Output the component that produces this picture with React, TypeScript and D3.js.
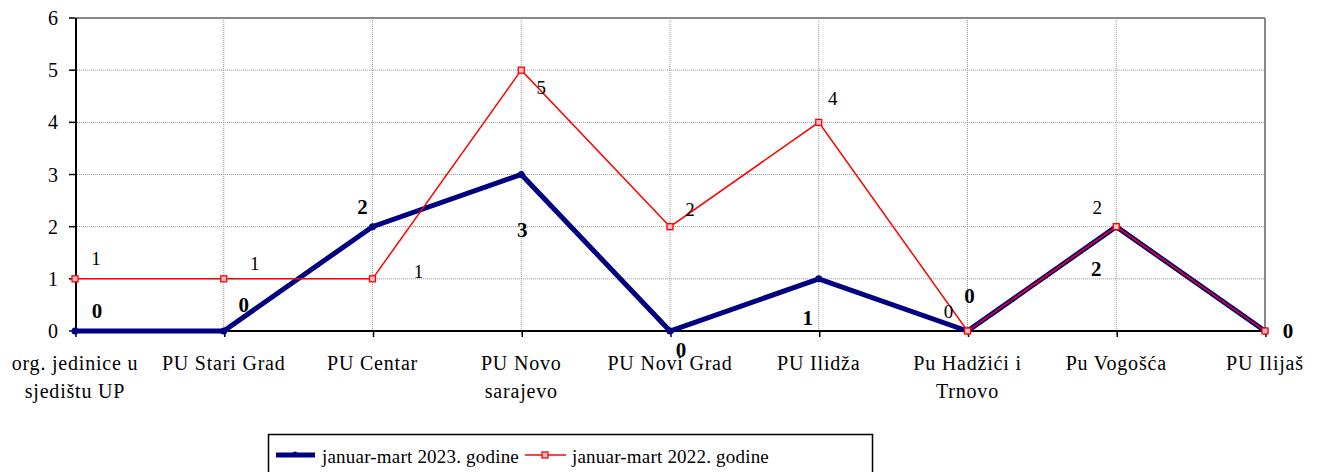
import React from "react";
import * as d3 from "d3";

const categories = [
  ["org. jedinice u", "sjedištu UP"],
  ["PU Stari Grad"],
  ["PU Centar"],
  ["PU Novo", "sarajevo"],
  ["PU Novi Grad"],
  ["PU Ilidža"],
  ["Pu Hadžići i", "Trnovo"],
  ["Pu Vogošća"],
  ["PU Ilijaš"],
];
const values2023 = [0, 0, 2, 3, 0, 1, 0, 2, 0];
const values2022 = [1, 1, 1, 5, 2, 4, 0, 2, 0];
const yTicks = [0, 1, 2, 3, 4, 5, 6];
const seriesNames = ["januar-mart 2023. godine", "januar-mart 2022. godine"];

// label offsets (px) from each point, as placed in the original
const off2023 = [[22, -20], [20, -26], [-10, -20], [1, 55], [11, 19], [-11, 39], [2, -35], [-20, 42], [23, 0]];
const off2022 = [[21, -20], [31, -15], [46, -7], [20, 17], [20, -17], [14, -24], [-19, -20], [-19, -19], null];

const W = 1318, H = 472;
const M = { left: 75, right: 1265, top: 18, bottom: 331 };
const FONT = "'Liberation Serif', 'Times New Roman', serif";

export default function App() {
  const x = d3.scalePoint<number>().domain(d3.range(categories.length)).range([M.left, M.right]);
  const y = d3.scaleLinear().domain([0, 6]).range([M.bottom, M.top]);
  const line = d3.line<number>().x((_, i) => x(i)!).y((d) => y(d));

  return (
    <svg width={W} height={H} style={{ position: "absolute", left: 0, top: 0 }} fontFamily={FONT}>
      {/* grid */}
      {yTicks.slice(1, -1).map((t) => (
        <line key={"h" + t} x1={M.left} x2={M.right} y1={y(t)} y2={y(t)} stroke="#999" strokeWidth={1} strokeDasharray="1,1" />
      ))}
      {categories.slice(1, -1).map((_, i) => (
        <line key={"v" + i} x1={x(i + 1)} x2={x(i + 1)} y1={M.top} y2={M.bottom} stroke="#999" strokeWidth={1} strokeDasharray="1,1" />
      ))}
      <line x1={M.left} x2={M.right} y1={M.top} y2={M.top} stroke="#888" strokeWidth={2} />
      <line x1={M.right} x2={M.right} y1={M.top} y2={M.bottom} stroke="#888" strokeWidth={2} />

      {/* axes */}
      <line x1={M.left + 1} x2={M.left + 1} y1={M.top} y2={M.bottom} stroke="#000" strokeWidth={2} />
      <line x1={M.left} x2={M.right} y1={M.bottom} y2={M.bottom} stroke="#000" strokeWidth={2} />
      {yTicks.map((t) => (
        <g key={"yt" + t}>
          <line x1={M.left - 6} x2={M.left} y1={y(t)} y2={y(t)} stroke="#000" strokeWidth={1.5} />
          <text x={58} y={y(t)} dy="0.35em" textAnchor="end" fontSize={20}>{t}</text>
        </g>
      ))}
      {categories.map((c, i) => (
        <g key={"xt" + i}>
          <line x1={x(i)! + 1} x2={x(i)! + 1} y1={M.bottom} y2={M.bottom + 6} stroke="#000" strokeWidth={1.5} />
          {c.map((s, j) => (
            <text key={j} x={x(i)} y={370 + j * 28} textAnchor="middle" fontSize={20} letterSpacing={0.8}>{s}</text>
          ))}
        </g>
      ))}

      {/* series 2023 */}
      <path d={line(values2023)!} fill="none" stroke="#000080" strokeWidth={5} />
      {values2023.map((v, i) => (
        <circle key={"m23" + i} cx={x(i)} cy={y(v)} r={3.5} fill="#000080" />
      ))}
      {/* series 2022 */}
      <path d={line(values2022)!} fill="none" stroke="#ff0000" strokeWidth={1.5} />
      {values2022.map((v, i) => (
        <rect key={"m22" + i} x={x(i)! - 3} y={y(v) - 3} width={6} height={6} fill="#f6c0c0" stroke="#ff0000" strokeWidth={1.3} />
      ))}

      {/* data labels */}
      {values2022.map((v, i) => off2022[i] && (
        <text key={"l22" + i} x={x(i)! + off2022[i]![0]} y={y(v) + off2022[i]![1]} dy="0.35em" textAnchor="middle" fontSize={19}>{v}</text>
      ))}
      {values2023.map((v, i) => (
        <text key={"l23" + i} x={x(i)! + off2023[i][0]} y={y(v) + off2023[i][1]} dy="0.35em" textAnchor="middle" fontSize={21} fontWeight="bold">{v}</text>
      ))}

      {/* legend */}
      <rect x={268.5} y={434.5} width={604} height={40} fill="#fff" stroke="#000" strokeWidth={1.5} />
      <line x1={276} x2={315} y1={455} y2={455} stroke="#000080" strokeWidth={5} />
      <circle cx={295} cy={454} r={2.5} fill="#000080" />
      <text x={322} y={456} dy="0.35em" fontSize={19} letterSpacing={0.2}>{seriesNames[0]}</text>
      <line x1={525} x2={566} y1={455} y2={455} stroke="#ff0000" strokeWidth={1.5} />
      <rect x={542} y={452} width={6} height={6} fill="#f6c0c0" stroke="#ff0000" strokeWidth={1.3} />
      <text x={572} y={456} dy="0.35em" fontSize={19} letterSpacing={0.2}>{seriesNames[1]}</text>
    </svg>
  );
}
